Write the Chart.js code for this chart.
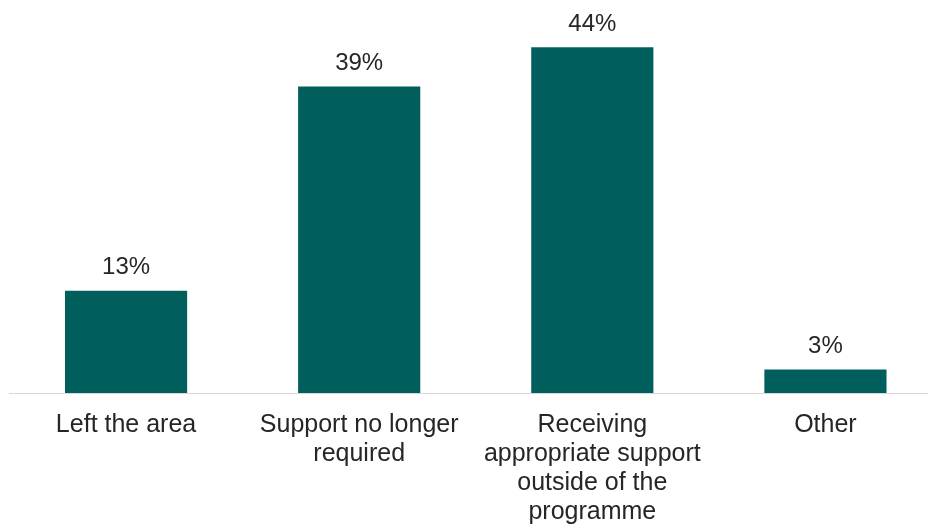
<!DOCTYPE html>
<html>
<head>
<meta charset="utf-8">
<script src="https://cdn.jsdelivr.net/npm/chart.js@4/dist/chart.umd.min.js"></script>
<style>
  html, body { margin: 0; padding: 0; background: #fff; overflow: hidden; }
  #wrap { width: 928px; height: 527px; overflow: hidden; position: relative; }
  #box { position: absolute; left: 0; top: 0; width: 942px; height: 527px; }
</style>
</head>
<body>
<div id="wrap"><div id="box"><canvas id="chart"></canvas></div></div>
<script>
const categories = [
  'Left the area',
  ['Support no longer', 'required'],
  ['Receiving', 'appropriate support', 'outside of the', 'programme'],
  'Other'
];
const values = [13, 39, 44, 3];
const valueLabels = ['13%', '39%', '44%', '3%'];

const barColor = '#005f5c';
const textColor = '#262626';
const fontFamily = '"Liberation Sans", Arial, sans-serif';

// draws the percentage above each bar
const valueLabelPlugin = {
  id: 'valueLabels',
  afterDatasetsDraw(chart) {
    const ctx = chart.ctx;
    const meta = chart.getDatasetMeta(0);
    ctx.save();
    ctx.font = '24px ' + fontFamily;
    ctx.fillStyle = textColor;
    ctx.textAlign = 'center';
    ctx.textBaseline = 'middle';
    meta.data.forEach((bar, i) => {
      ctx.fillText(valueLabels[i], bar.x, bar.y - 23);
    });
    ctx.restore();
  }
};

const ctx = document.getElementById('chart').getContext('2d');
new Chart(ctx, {
  type: 'bar',
  data: {
    labels: categories,
    datasets: [{
      data: values,
      backgroundColor: barColor,
      barPercentage: 0.524,
      categoryPercentage: 1
    }]
  },
  options: {
    responsive: true,
    maintainAspectRatio: false,
    animation: false,
    layout: { padding: { left: 9.5, right: 0, top: 0, bottom: 0 } },
    plugins: {
      legend: { display: false },
      tooltip: { enabled: false }
    },
    scales: {
      x: {
        grid: { display: false, drawTicks: false },
        border: { display: true, color: '#d9d9d9', width: 1 },
        ticks: {
          color: textColor,
          font: { family: fontFamily, size: 25, lineHeight: 1.16 },
          padding: 17.5,
          maxRotation: 0,
          autoSkip: false
        },
        afterFit(scale) {
          scale.height = 134;
        }
      },
      y: {
        display: false,
        min: 0,
        max: 50
      }
    }
  },
  plugins: [valueLabelPlugin]
});
</script>
</body>
</html>
